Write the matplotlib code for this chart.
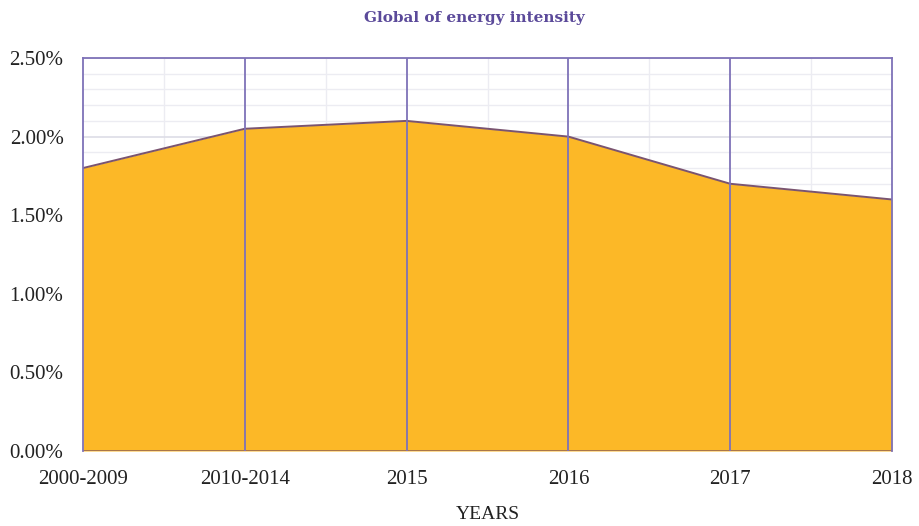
import matplotlib
matplotlib.use("Agg")
import matplotlib.pyplot as plt
from matplotlib.ticker import MultipleLocator, FuncFormatter
import numpy as np

periods = ["2000-2009", "2010-2014", "2015", "2016", "2017", "2018"]
intensity = [1.80, 2.05, 2.10, 2.00, 1.70, 1.60]  # percent

plt.rcParams["font.family"] = ["Liberation Serif", "DejaVu Serif"]

fig = plt.figure(figsize=(9.2, 5.26), dpi=100)
ax = fig.add_axes([0.0902, 0.1426, 0.8794, 0.7471])

x = np.arange(len(periods))
fill_color = "#FCB827"
frame_color = "#7E72B8"

ax.fill_between(x, 0, intensity, color=fill_color, zorder=2, linewidth=0)
ax.plot(x, intensity, color="#7A5470", linewidth=1.4, zorder=3)
ax.plot(x, [0] * len(x), color="#9A6A50", linewidth=1.2, zorder=3)

# category dividers drawn over the filled area
for xi in x[1:-1]:
    ax.axvline(xi, color=frame_color, linewidth=1.3, zorder=4)

ax.set_xlim(x[0], x[-1])
ax.set_ylim(0, 2.5)

ax.yaxis.set_major_locator(MultipleLocator(0.5))
ax.yaxis.set_minor_locator(MultipleLocator(0.1))
ax.yaxis.set_major_formatter(FuncFormatter(lambda v, p: f"{v:.2f}%"))
ax.set_xticks(x)
ax.set_xticklabels(periods)
ax.set_xticks(x[:-1] + 0.5, minor=True)

ax.grid(which="minor", color="#ECECF2", linewidth=1.0, zorder=0)
ax.grid(which="major", axis="y", color="#DDDDE6", linewidth=1.2, zorder=0)

for side in ["top", "left", "right"]:
    ax.spines[side].set_color(frame_color)
    ax.spines[side].set_linewidth(1.3)
    ax.spines[side].set_zorder(5)
ax.spines["bottom"].set_visible(False)

ax.tick_params(which="both", length=0)
ax.tick_params(axis="y", labelsize=15, pad=14, colors="#222222")
ax.tick_params(axis="x", labelsize=15, pad=14, colors="#222222")

ax.set_xlabel("YEARS", fontsize=14, color="#222222", labelpad=12)
fig.text(0.516, 0.966, "Global of energy intensity", ha="center", va="center",
         fontsize=11, fontweight="bold", color="#5B4A9A", family="DejaVu Serif")

fig.savefig("out.png", dpi=100, facecolor="white")
